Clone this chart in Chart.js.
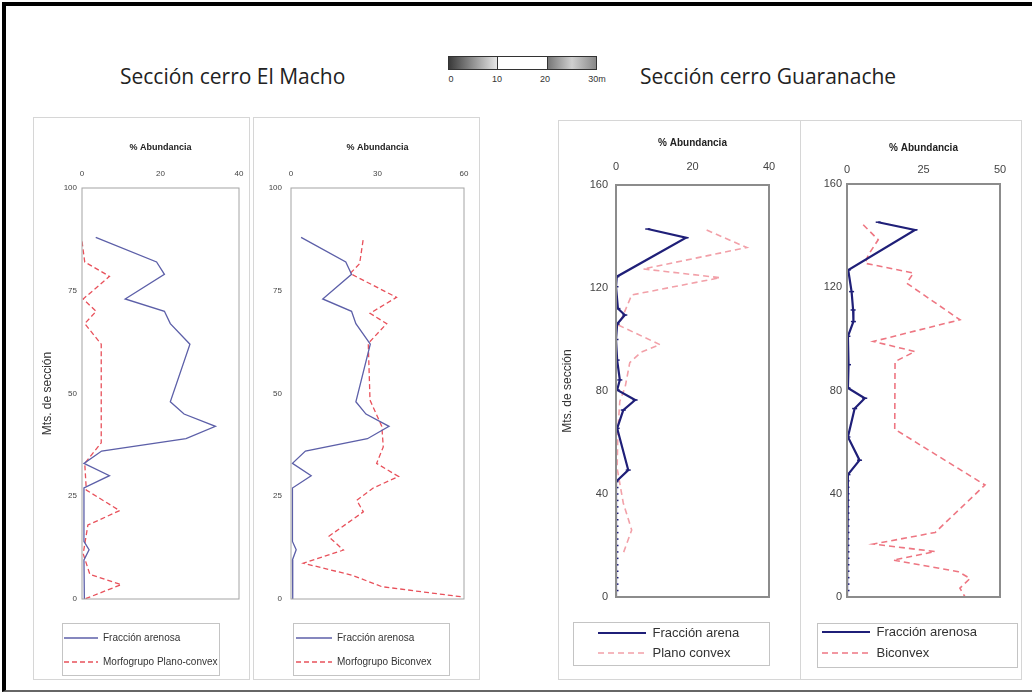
<!DOCTYPE html>
<html>
<head>
<meta charset="utf-8">
<script src="https://cdn.jsdelivr.net/npm/chart.js@4.4.1/dist/chart.umd.min.js"></script>
<style>
  body { margin: 0; background: #fff; font-family: "Liberation Sans", Arial, sans-serif; }
  #page { position: relative; width: 1032px; height: 693px; overflow: hidden; background: #fff; }
  #frame { position: absolute; left: 2px; top: 2px; width: 1040px; height: 684px;
           border-top: 4px solid #000; border-left: 4px solid #000; border-bottom: 2px solid #666; }
  .title { position: absolute; top: 62px; font-family: "Open Sans"; font-size: 21px; color: #222; white-space: nowrap; }
  .box { position: absolute; box-sizing: border-box; border: 1px solid #d6d6d6; }
  .panel { position: absolute; }
  #scalebar { position: absolute; left: 448px; top: 56px; width: 149px; height: 14px; box-sizing: border-box;
              border: 1px solid #333; display: flex; }
  #scalebar div { flex: 1; }
  .sl { position: absolute; top: 74px; font-size: 9px; color: #333; transform: translateX(-50%); }
</style>
</head>
<body>
<div id="page">
  <div id="frame"></div>

  <div class="title" style="left:120px">Sección cerro El Macho</div>
  <div id="scalebar">
    <div style="background:linear-gradient(90deg,#3a3a3a,#e8e8e8)"></div>
    <div style="background:#fff;border-left:1px solid #333;border-right:1px solid #333"></div>
    <div style="background:linear-gradient(90deg,#777,#d0d0d0,#888)"></div>
  </div>
  <span class="sl" style="left:451px">0</span>
  <span class="sl" style="left:497px">10</span>
  <span class="sl" style="left:545px">20</span>
  <span class="sl" style="left:597px">30m</span>
  <div class="title" style="left:640px">Sección cerro Guaranache</div>

  <div class="box" style="left:33px;top:117px;width:217px;height:563px"></div>
  <div class="box" style="left:253px;top:117px;width:227px;height:563px"></div>
  <div class="box" style="left:558px;top:120px;width:243px;height:560px"></div>
  <div class="box" style="left:800px;top:120px;width:222px;height:560px"></div>

  <div class="panel" style="left:36px;top:120px"><canvas id="c1" width="212" height="558"></canvas></div>
  <div class="panel" style="left:255px;top:120px"><canvas id="c2" width="223" height="558"></canvas></div>
  <div class="panel" style="left:560px;top:122px"><canvas id="c3" width="238" height="556"></canvas></div>
  <div class="panel" style="left:802px;top:122px"><canvas id="c4" width="218" height="556"></canvas></div>
</div>

<script>
// El Macho section: metres of section and % abundance
const machoArenaDepth = [88, 82, 79, 73, 70, 67, 62, 48, 45, 42, 39, 36, 33, 30, 27, 14, 12, 9.5, 0];
const machoArena      = [3.5, 19, 21, 11, 21, 22.5, 27.5, 22.5, 26, 34, 26.5, 5, 0.5, 7, 0.5, 0.5, 1.8, 0.5, 0.6];

const machoPlanoDepth = [87, 82, 78.5, 73, 70, 67, 62, 38, 33, 26.5, 21.5, 18, 11, 6, 3.5, 0];
const machoPlano      = [0, 0.7, 7, 0.3, 3.6, 0.7, 4.9, 4.9, 0.7, 1.1, 9.6, 1.5, 0.3, 2, 10, 0.7];

const machoBiconDepth = [87.3, 81.6, 79.2, 73.4, 69.5, 67, 62.2, 48.4, 42, 37, 33, 29.8, 27, 24, 21.2, 15.2, 11.9, 8.7, 5.8, 3, 0.5];
const machoBicon      = [25, 23.8, 20.5, 36.6, 27.4, 33.2, 26.8, 27.4, 31.5, 32, 29.7, 37.3, 28.5, 22.8, 25.1, 13, 18.2, 4.3, 21.1, 31.5, 59.5];

// Guaranache section (arena as read in each of the two panels)
const guarArenaDepthA = [142.9, 139.5, 124.4, 120.5, 112, 109.5, 106, 100, 92, 84.3, 80.4, 76.5, 72.6, 65.5, 49.3, 44.8,
                         42.5, 40, 37.5, 35, 32.5, 30, 27.5, 25, 22.5, 20, 17.5, 15, 12.5, 10, 7.5, 5, 2.5, 0];
const guarArenaA      = [8.3, 18.3, 0.2, 0, 0.5, 2.3, 0.3, 0, 0.3, 1, 0.3, 5, 1.9, 0.3, 3.2, 0,
                         0, 0, 0, 0, 0, 0, 0, 0, 0, 0, 0, 0, 0, 0, 0, 0, 0, 0];

const guarArenaDepthB = [145.2, 142.2, 126.7, 118.3, 111.2, 106.7, 101, 90, 81, 77, 73, 62, 53, 47.4,
                         45, 42.5, 40, 37.5, 35, 32.5, 30, 27.5, 25, 22.5, 20, 17.5, 15, 12.5, 10, 7.5, 5, 2.5, 0];
const guarArenaB      = [10.2, 22.2, 0.4, 1.5, 2, 2.1, 0.3, 0.5, 0.3, 5.8, 2.5, 0.3, 4.1, 0.3,
                         0, 0, 0, 0, 0, 0, 0, 0, 0, 0, 0, 0, 0, 0, 0, 0, 0, 0, 0];

const guarPlanoDepth = [142.5, 135.7, 127.4, 124, 117.3, 109.5, 105.6, 98, 95, 91, 81.6, 76, 65, 50, 36.5, 26, 17];
const guarPlano      = [23.7, 34.2, 7.1, 27.2, 4.1, 1.9, 0.6, 11.5, 6.5, 3.6, 2.4, 1, 0.5, 0.3, 1.9, 4.1, 1.9];

const guarBiconDepth = [144.2, 138.4, 132.6, 129.3, 125.5, 121.6, 107.4, 99, 95.1, 91.2, 65, 43.4, 25, 20.5, 17.6, 14.3, 9.8, 7.2, 3.4, 0];
const guarBicon      = [5.3, 10.2, 7, 5.9, 21.7, 19.5, 36.9, 8.6, 22.2, 15.7, 15.6, 45.1, 28.8, 8.6, 28.8, 15.1, 36.4, 40.2, 36.9, 38.6];

// tick labels
const machoPlanoTicks = [0, 20, 40];
const machoBiconTicks = [0, 30, 60];
const machoDepthTicks = [0, 25, 50, 75, 100];
const guarPlanoTicks = [0, 20, 40];
const guarBiconTicks = [0, 25, 50];
const guarDepthTicks = [0, 40, 80, 120, 160];

const FONT = 'Liberation Sans';

// plot frame + legend box, and moves the legend where the original had it
const frames = {
  id: 'frames',
  afterLayout(chart, args, o) {
    const lg = chart.legend;
    const h = lg.height;
    lg.left = o.legendAt[0]; lg.top = o.legendAt[1];
    lg.right = chart.width; lg.bottom = lg.top + h;
  },
  afterDraw(chart, args, o) {
    const {ctx, chartArea: a, legend} = chart;
    ctx.save();
    ctx.strokeStyle = o.plotColor;
    ctx.lineWidth = o.plotWidth;
    ctx.strokeRect(a.left, a.top, a.right - a.left, a.bottom - a.top);
    const hb = legend.legendHitBoxes;
    const l = Math.min(...hb.map(b => b.left)) - o.pad[0];
    const r = Math.max(...hb.map(b => b.left + b.width)) + o.pad[1];
    const t = Math.min(...hb.map(b => b.top)) - o.pad[2];
    const btm = Math.max(...hb.map(b => b.top + b.height)) + o.pad[3];
    ctx.strokeStyle = '#c4c4c4';
    ctx.lineWidth = 1;
    ctx.strokeRect(Math.round(l) + 0.5, Math.round(t) + 0.5, Math.round(r - l), Math.round(btm - t));
    ctx.restore();
  }
};

function profile(id, p) {
  return new Chart(document.getElementById(id), {
    type: 'scatter',
    data: {
      datasets: p.series.map(s => ({
        label: s.label,
        data: s.depth.map((d, i) => ({x: s.values[i], y: d})),
        showLine: true,
        borderColor: s.color,
        backgroundColor: s.color,
        borderWidth: s.width,
        borderDash: s.dash || [],
        pointRadius: s.marker ? 2.5 : 0,
        pointHoverRadius: 0,
        pointStyle: 'line',
        pointBorderColor: s.color,
        pointBorderWidth: 1.5
      }))
    },
    options: {
      responsive: false,
      animation: false,
      events: [],
      layout: {padding: {top: 0, left: 0, right: p.padRight, bottom: p.padBottom}},
      plugins: {
        tooltip: {enabled: false},
        legend: {
          position: 'bottom', align: 'start', fullSize: false,
          labels: {
            usePointStyle: true, pointStyle: 'line', pointStyleWidth: p.sample, padding: p.legendGap,
            font: {family: FONT, size: p.legendFont},
            generateLabels: chart => chart.data.datasets.map((ds, i) => ({
              text: ds.label, datasetIndex: i, pointStyle: 'line',
              strokeStyle: ds.borderColor, fillStyle: ds.borderColor,
              lineWidth: ds.borderWidth, lineDash: ds.borderDash, fontColor: '#333'
            }))
          }
        },
        frames: {legendAt: p.legendAt, pad: p.legendPad, plotColor: p.plotColor, plotWidth: p.plotWidth}
      },
      scales: {
        x: {
          type: 'linear', position: 'top',
          min: p.xTicks[0], max: p.xTicks[p.xTicks.length - 1],
          grid: {display: false, drawTicks: false}, border: {display: false},
          ticks: {font: {family: FONT, size: p.tickFont}, color: '#444', padding: p.xTickPad, maxRotation: 0, autoSkip: false},
          afterBuildTicks: s => { s.ticks = p.xTicks.map(v => ({value: v})); },
          afterFit: s => { s.height = p.xHeight; s.paddingLeft = 0; s.paddingRight = 0; },
          title: {display: true, text: '% Abundancia', color: '#222',
                  font: {family: FONT, size: p.titleFont, weight: 'bold'}, padding: {top: p.xTitlePad, bottom: 0}}
        },
        y: {
          type: 'linear', position: 'left',
          min: p.yTicks[0], max: p.yTicks[p.yTicks.length - 1],
          grid: {display: false, drawTicks: false}, border: {display: false},
          ticks: {font: {family: FONT, size: p.tickFont}, color: '#444', padding: p.yTickPad, autoSkip: false},
          afterBuildTicks: s => { s.ticks = p.yTicks.map(v => ({value: v})); },
          afterFit: s => { s.width = p.yWidth; s.paddingTop = 0; s.paddingBottom = 0; },
          title: {display: !!p.yTitle, text: 'Mts. de sección', color: '#333',
                  font: {family: FONT, size: 12}, padding: {top: p.yTitlePad, bottom: 0}}
        }
      }
    },
    plugins: [frames]
  });
}

profile('c1', {
  series: [
    {label: 'Fracción arenosa', depth: machoArenaDepth, values: machoArena, color: '#5c5fa8', width: 1.3},
    {label: 'Morfogrupo Plano-convex', depth: machoPlanoDepth, values: machoPlano, color: '#e8515b', width: 1.3, dash: [5, 3]}
  ],
  xTicks: machoPlanoTicks, yTicks: machoDepthTicks,
  yWidth: 46, xHeight: 68, padRight: 9, padBottom: 21,
  tickFont: 8, titleFont: 9, xTitlePad: 22.6, xTickPad: 9, yTickPad: 5, yTitle: true, yTitlePad: 4,
  legendFont: 10, legendGap: 14, sample: 34, legendAt: [14, 499], legendPad: [2, 1, 10, 8],
  plotColor: '#a4a4a4', plotWidth: 1
});

profile('c2', {
  series: [
    {label: 'Fracción arenosa', depth: machoArenaDepth, values: machoArena, color: '#5c5fa8', width: 1.3},
    {label: 'Morfogrupo Biconvex', depth: machoBiconDepth, values: machoBicon, color: '#e8515b', width: 1.3, dash: [5, 3]}
  ],
  xTicks: machoBiconTicks, yTicks: machoDepthTicks,
  yWidth: 36, xHeight: 68, padRight: 14, padBottom: 21,
  tickFont: 8, titleFont: 9, xTitlePad: 22.6, xTickPad: 9, yTickPad: 9, yTitle: false, yTitlePad: 0,
  legendFont: 10, legendGap: 14, sample: 36, legendAt: [27, 499], legendPad: [3, 18, 10, 8],
  plotColor: '#a4a4a4', plotWidth: 1
});

profile('c3', {
  series: [
    {label: 'Fracción arena', depth: guarArenaDepthA, values: guarArenaA, color: '#1f1f78', width: 2.2, marker: true},
    {label: 'Plano convex', depth: guarPlanoDepth, values: guarPlano, color: '#f2a0a8', width: 1.6, dash: [6, 4]}
  ],
  xTicks: guarPlanoTicks, yTicks: guarDepthTicks,
  yWidth: 56, xHeight: 63, padRight: 29, padBottom: 31,
  tickFont: 11, titleFont: 10, xTitlePad: 15, xTickPad: 11.4, yTickPad: 8, yTitle: true, yTitlePad: 0,
  legendFont: 13, legendGap: 7, sample: 48, legendAt: [31, 497.5], legendPad: [25, 30, 4.5, 5.5],
  plotColor: '#8c8c8c', plotWidth: 2
});

profile('c4', {
  series: [
    {label: 'Fracción arenosa', depth: guarArenaDepthB, values: guarArenaB, color: '#1f1f78', width: 2.2, marker: true},
    {label: 'Biconvex', depth: guarBiconDepth, values: guarBicon, color: '#ee7682', width: 1.6, dash: [6, 4]}
  ],
  xTicks: guarBiconTicks, yTicks: guarDepthTicks,
  yWidth: 45, xHeight: 62, padRight: 20, padBottom: 29,
  tickFont: 11, titleFont: 10, xTitlePad: 20, xTickPad: 7.4, yTickPad: 5, yTitle: false, yTitlePad: 0,
  legendFont: 13, legendGap: 8, sample: 48, legendAt: [12, 495.5], legendPad: [5, 40, 2.5, 7.5],
  plotColor: '#8c8c8c', plotWidth: 2
});
</script>
</body>
</html>
